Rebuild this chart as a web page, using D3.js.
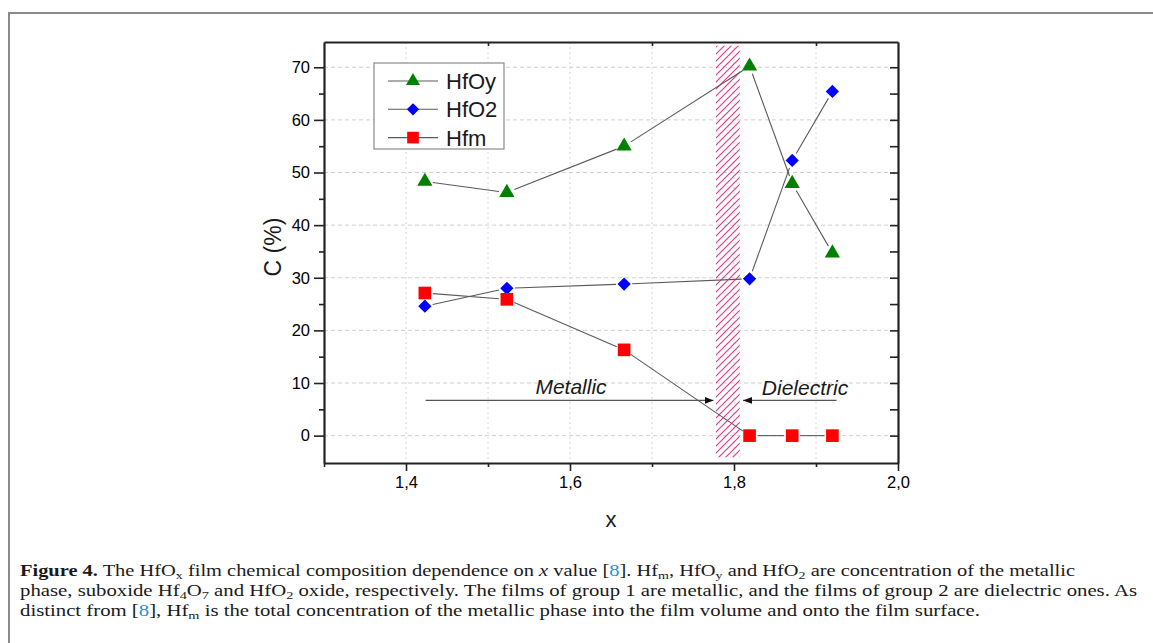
<!DOCTYPE html>
<html>
<head>
<meta charset="utf-8">
<script src="https://cdn.jsdelivr.net/npm/d3@7/dist/d3.min.js"></script>
<style>
  body { margin: 0; background: #fff; }
  .plotText { font-family: "Liberation Sans", Arial, sans-serif; fill: #1a1a1a; }
  .caption { font-family: "Liberation Serif", "Times New Roman", serif; font-size: 16px; fill: #1a1a1a; }
  .axis path, .axis line { stroke: #222; }
</style>
</head>
<body>
<div id="chart"></div>
<script>
// values
const xVals = [1.423, 1.523, 1.666, 1.819, 1.871, 1.920];
const hfOy  = [48.3, 46.2, 55.0, 70.2, 47.9, 34.7];
const hfO2  = [24.6, 28.0, 28.8, 29.8, 52.3, 65.4];
const hfm   = [27.1, 25.9, 16.3, 0, 0, 0];

const seriesNames = ["HfOy", "HfO2", "Hfm"];
const xTicks = [1.4, 1.6, 1.8, 2.0];
const xMinor = [1.3, 1.5, 1.7, 1.9];
const yTicks = [0, 10, 20, 30, 40, 50, 60, 70];
const yMinor = [5, 15, 25, 35, 45, 55, 65];

// transition band between metallic and dielectric films
const band = {x0: 1.778, x1: 1.807, y0: -4.1, y1: 74.1};
const arrowY = 6.7;
const metallicArrow = [1.424, 1.775];
const dielectricArrow = [1.925, 1.811];

const W = 1153, H = 643;
const plot = {left: 324, right: 898, top: 42, bottom: 463};

const svg = d3.select("#chart")
    .append("svg")
    .attr("width", W)
    .attr("height", H);

// page frame
svg.append("rect")
    .attr("x", 9).attr("y", 13)
    .attr("width", 1200).attr("height", 700)
    .attr("fill", "none")
    .attr("stroke", "#8a8a8a")
    .attr("stroke-width", 2);

const x = d3.scaleLinear().domain([1.3, 2.0]).range([plot.left, plot.right]);
const y = d3.scaleLinear().domain([-5.2, 74.8]).range([plot.bottom, plot.top]);

const defs = svg.append("defs");
const hatch = defs.append("pattern")
    .attr("id", "hatch")
    .attr("patternUnits", "userSpaceOnUse")
    .attr("width", 7).attr("height", 7);
hatch.append("path")
    .attr("d", "M-1,1 L1,-1 M0,7 L7,0 M6,8 L8,6")
    .attr("stroke", "#dd3d8c")
    .attr("stroke-width", 1.2);

defs.append("marker")
    .attr("id", "arrowHead")
    .attr("markerUnits", "userSpaceOnUse")
    .attr("markerWidth", 10).attr("markerHeight", 8)
    .attr("refX", 9).attr("refY", 3.5)
    .attr("orient", "auto")
    .append("path")
    .attr("d", "M0,0 L9,3.5 L0,7 z")
    .attr("fill", "#111");

// grid
svg.append("g")
    .selectAll("line")
    .data(yTicks)
    .join("line")
    .attr("x1", plot.left).attr("x2", plot.right)
    .attr("y1", d => y(d)).attr("y2", d => y(d))
    .attr("stroke", "#cfcfcf")
    .attr("stroke-dasharray", "4,3");
svg.append("g")
    .selectAll("line")
    .data([1.4, 1.5, 1.6, 1.7, 1.8, 1.9])
    .join("line")
    .attr("x1", d => x(d)).attr("x2", d => x(d))
    .attr("y1", plot.top).attr("y2", plot.bottom)
    .attr("stroke", "#d6d6d6")
    .attr("stroke-dasharray", "2,3");

// hatched band
svg.append("rect")
    .attr("x", x(band.x0))
    .attr("y", y(band.y1))
    .attr("width", x(band.x1) - x(band.x0))
    .attr("height", y(band.y0) - y(band.y1))
    .attr("fill", "url(#hatch)");

// axes
const commaFmt = d => d3.format(".1f")(d).replace(".", ",");

svg.append("g")
    .attr("class", "axis plotText")
    .attr("transform", `translate(0,${plot.bottom})`)
    .call(d3.axisBottom(x).tickValues(xTicks).tickSize(8).tickSizeOuter(0).tickPadding(5).tickFormat(commaFmt))
    .call(g => g.selectAll("text").attr("font-size", 16.5).attr("font-family", null));
svg.append("g")
    .attr("class", "axis")
    .attr("transform", `translate(0,${plot.bottom})`)
    .call(d3.axisBottom(x).tickValues(xMinor).tickSize(4).tickFormat(""))
    .call(g => g.select(".domain").remove());
svg.append("g")
    .attr("class", "axis")
    .attr("transform", `translate(0,${plot.top})`)
    .call(d3.axisBottom(x).tickValues([1.5, 1.7, 1.9]).tickSize(4).tickSizeOuter(0).tickFormat(""));

svg.append("g")
    .attr("class", "axis plotText")
    .attr("transform", `translate(${plot.left},0)`)
    .call(d3.axisLeft(y).tickValues(yTicks).tickSize(10).tickSizeOuter(0).tickPadding(4).tickFormat(d3.format("d")))
    .call(g => g.selectAll("text").attr("font-size", 16.5).attr("font-family", null));
svg.append("g")
    .attr("class", "axis")
    .attr("transform", `translate(${plot.left},0)`)
    .call(d3.axisLeft(y).tickValues(yMinor).tickSize(5).tickFormat(""))
    .call(g => g.select(".domain").remove());
svg.append("g")
    .attr("class", "axis")
    .attr("transform", `translate(${plot.right},0)`)
    .call(d3.axisLeft(y).tickValues(d3.merge([yTicks, yMinor])).tickSize(8).tickSizeOuter(0).tickFormat(""));

svg.selectAll(".axis .domain").attr("stroke-width", 2.2);
svg.selectAll(".axis .tick line").attr("stroke-width", 1.6);

svg.append("text")
    .attr("class", "plotText")
    .attr("transform", `translate(281,247) rotate(-90)`)
    .attr("text-anchor", "middle")
    .attr("font-size", 23)
    .text("C (%)");
svg.append("text")
    .attr("class", "plotText")
    .attr("x", x(1.65)).attr("y", 527)
    .attr("text-anchor", "middle")
    .attr("font-size", 22)
    .text("x");

// arrows and region labels
svg.append("line")
    .attr("x1", x(metallicArrow[0])).attr("x2", x(metallicArrow[1]))
    .attr("y1", y(arrowY)).attr("y2", y(arrowY))
    .attr("stroke", "#555").attr("stroke-width", 1.1)
    .attr("marker-end", "url(#arrowHead)");
svg.append("line")
    .attr("x1", x(dielectricArrow[0])).attr("x2", x(dielectricArrow[1]))
    .attr("y1", y(arrowY)).attr("y2", y(arrowY))
    .attr("stroke", "#555").attr("stroke-width", 1.1)
    .attr("marker-end", "url(#arrowHead)");
svg.append("text")
    .attr("class", "plotText")
    .attr("x", 571).attr("y", y(arrowY) - 6)
    .attr("text-anchor", "middle")
    .attr("font-size", 21).attr("font-style", "italic")
    .text("Metallic");
svg.append("text")
    .attr("class", "plotText")
    .attr("x", 805).attr("y", y(arrowY) - 5)
    .attr("text-anchor", "middle")
    .attr("font-size", 21).attr("font-style", "italic")
    .text("Dielectric");

// series
const series = [
    {name: seriesNames[0], values: hfOy, color: "#008000", symbol: d3.symbolTriangle, size: 100, rot: 0},
    {name: seriesNames[1], values: hfO2, color: "#0000ff", symbol: d3.symbolSquare, size: 88, rot: 45},
    {name: seriesNames[2], values: hfm,  color: "#ff0000", symbol: d3.symbolSquare, size: 160, rot: 0}
];

const gap = 8;
series.forEach(s => {
    const pts = xVals.map((xv, i) => [x(xv), y(s.values[i])]);
    const segs = d3.pairs(pts).map(([a, b]) => {
        const dx = b[0] - a[0], dy = b[1] - a[1];
        const len = Math.hypot(dx, dy);
        const ux = dx / len, uy = dy / len;
        return [a[0] + ux * gap, a[1] + uy * gap, b[0] - ux * gap, b[1] - uy * gap];
    });
    svg.append("g")
        .selectAll("line")
        .data(segs)
        .join("line")
        .attr("x1", d => d[0]).attr("y1", d => d[1])
        .attr("x2", d => d[2]).attr("y2", d => d[3])
        .attr("stroke", "#5a5a5a")
        .attr("stroke-width", 1.1);
});
series.forEach(s => {
    svg.append("g")
        .selectAll("path")
        .data(xVals.map((xv, i) => [xv, s.values[i]]))
        .join("path")
        .attr("d", d3.symbol().type(s.symbol).size(s.size))
        .attr("transform", d => `translate(${x(d[0])},${y(d[1])}) rotate(${s.rot})`)
        .attr("fill", s.color);
});

// legend
const legend = svg.append("g").attr("transform", "translate(374,63)");
legend.append("rect")
    .attr("width", 130).attr("height", 86)
    .attr("fill", "#fff")
    .attr("stroke", "#8a8a8a")
    .attr("stroke-width", 1.2);
const items = legend.selectAll(".item")
    .data(series)
    .join("g")
    .attr("class", "item")
    .attr("transform", (d, i) => `translate(0,${18 + i * 28.3})`);
items.append("line")
    .attr("x1", 14).attr("x2", 64)
    .attr("stroke", "#5a5a5a").attr("stroke-width", 1.1);
items.append("path")
    .attr("d", d => d3.symbol().type(d.symbol).size(d.size * 0.85)())
    .attr("transform", d => `translate(39,0) rotate(${d.rot})`)
    .attr("fill", d => d.color);
items.append("text")
    .attr("class", "plotText")
    .attr("x", 72).attr("dy", "0.36em")
    .attr("font-size", 22)
    .text(d => d.name);

// caption
const captionLines = [
    {y: 576, len: 1055, parts: [
        {t: "Figure 4.", b: true}, {t: " The HfO"}, {t: "x", sub: true},
        {t: " film chemical composition dependence on "}, {t: "x", i: true}, {t: " value ["},
        {t: "8", c: "#1f8fd0"}, {t: "]. Hf"}, {t: "m", sub: true}, {t: ", HfO"}, {t: "y", sub: true},
        {t: " and HfO"}, {t: "2", sub: true}, {t: " are concentration of the metallic"}]},
    {y: 596, len: 1117, parts: [
        {t: "phase, suboxide Hf"}, {t: "4", sub: true}, {t: "O"}, {t: "7", sub: true},
        {t: " and HfO"}, {t: "2", sub: true},
        {t: " oxide, respectively. The films of group 1 are metallic, and the films of group 2 are dielectric ones. As"}]},
    {y: 616, len: 960, parts: [
        {t: "distinct from ["}, {t: "8", c: "#1f8fd0"}, {t: "], Hf"}, {t: "m", sub: true},
        {t: " is the total concentration of the metallic phase into the film volume and onto the film surface."}]}
];

captionLines.forEach(line => {
    const t = svg.append("text")
        .attr("class", "caption")
        .attr("x", 20).attr("y", line.y)
        .attr("textLength", line.len)
        .attr("lengthAdjust", "spacingAndGlyphs");
    let shifted = false;
    line.parts.forEach(p => {
        const ts = t.append("tspan").text(p.t);
        if (p.sub) { ts.attr("dy", 3).attr("font-size", 11); shifted = true; }
        else if (shifted) { ts.attr("dy", -3); shifted = false; }
        if (p.b) ts.attr("font-weight", "bold");
        if (p.i) ts.attr("font-style", "italic");
        if (p.c) ts.style("fill", p.c);
    });
});
</script>
</body>
</html>
